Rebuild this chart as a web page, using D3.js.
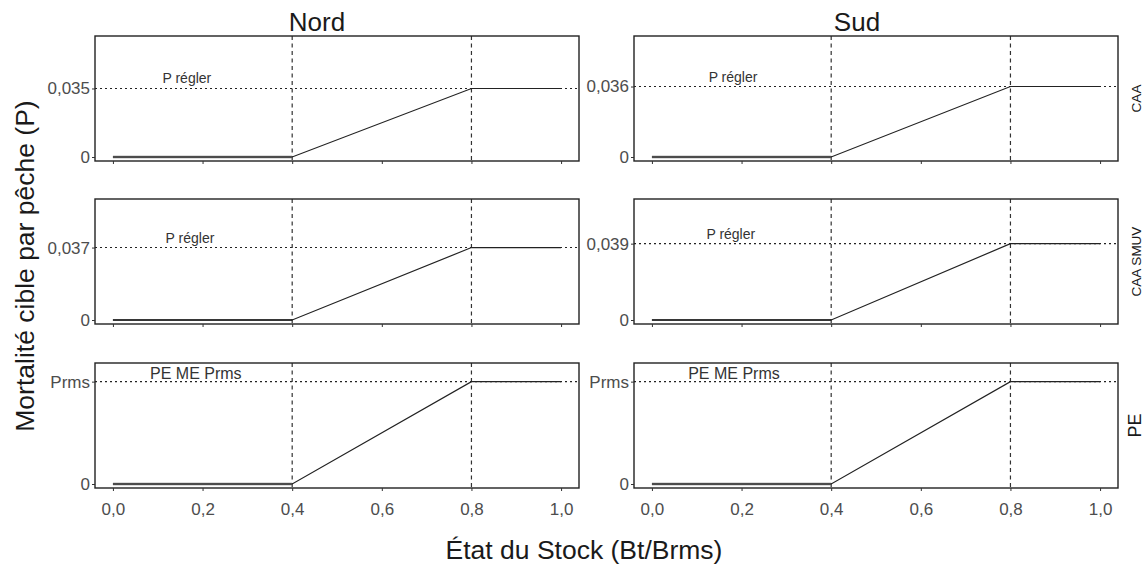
<!DOCTYPE html>
<html>
<head>
<meta charset="utf-8">
<script src="https://cdnjs.cloudflare.com/ajax/libs/d3/7.8.5/d3.min.js"></script>
<style>
  body { margin: 0; background: #fff; }
  svg text { font-family: "Liberation Sans", Arial, sans-serif; }
</style>
</head>
<body>
<div id="chart"></div>
<script>
// DATA //
const regions = ["Nord", "Sud"]
const rules = ["CAA", "CAA SMUV", "PE"]

// stock status breakpoints (Bt/Brms)
const stockX = [0, 0.4, 0.8, 1.0]
const refLinesX = [0.4, 0.8]

// target mortality per rule (rows) and region (cols); PE is expressed in Prms units
const targetP = [
    [0.035, 0.036],
    [0.037, 0.039],
    [1, 1],
]
const targetLabels = [
    ["0,035", "0,036"],
    ["0,037", "0,039"],
    ["Prms", "Prms"],
]
const annotations = ["P régler", "P régler", "PE ME Prms"]
const annotationX = [
    [0.165, 0.181],
    [0.172, 0.176],
    [0.185, 0.183],
]

const xTicks = [0, 0.2, 0.4, 0.6, 0.8, 1.0]
const yDomains = [
    [-0.00204, 0.0618],
    [-0.00204, 0.0618],
    [-0.039, 1.182],
]

// GLOBAL VARIABLES //
const width = 1144
const height = 565

let dimensions = {
    panelLeft: [95, 634],
    panelWidth: 484,
    panelTop: [36, 199, 363],
    panelHeight: 125,
}

const fmt = d => d.toFixed(1).replace(".", ",")

const svg = d3.select("#chart")
    .append("svg")
    .attr("width", width)
    .attr("height", height)

// Column titles
const titleX = [317, 857]
regions.forEach((r, i) => {
    svg.append("text")
        .attr("x", titleX[i])
        .attr("y", 31)
        .attr("text-anchor", "middle")
        .attr("font-size", 26)
        .attr("fill", "#1a1a1a")
        .text(r)
})

rules.forEach((rule, row) => {
    regions.forEach((region, col) => {
        const x0 = dimensions.panelLeft[col]
        const y0 = dimensions.panelTop[row]

        const xScale = d3.scaleLinear()
            .domain([-0.04, 1.04])
            .range([0, dimensions.panelWidth])

        const yScale = d3.scaleLinear()
            .domain(yDomains[row])
            .range([dimensions.panelHeight, 0])

        const g = svg.append("g")
            .attr("transform", `translate(${x0},${y0})`)

        const target = targetP[row][col]

        // horizontal dotted line at target
        g.append("line")
            .attr("x1", 0)
            .attr("x2", dimensions.panelWidth)
            .attr("y1", yScale(target))
            .attr("y2", yScale(target))
            .attr("stroke", "#222")
            .attr("stroke-width", 1.1)
            .attr("stroke-dasharray", "2,3")

        // vertical dashed lines
        g.selectAll(".vline")
            .data(refLinesX)
            .join("line")
            .attr("class", "vline")
            .attr("x1", d => xScale(d))
            .attr("x2", d => xScale(d))
            .attr("y1", 0)
            .attr("y2", dimensions.panelHeight)
            .attr("stroke", "#333")
            .attr("stroke-width", 1.2)
            .attr("stroke-dasharray", "4,3.5")

        // control rule
        const pts = [0, 0, target, target]
        const lineGen = d3.line()
            .x((d, i) => xScale(stockX[i]))
            .y(d => yScale(d))

        // low segment drawn thicker/grey like the original
        g.append("path")
            .datum(pts.slice(0, 2))
            .attr("d", lineGen)
            .attr("fill", "none")
            .attr("stroke", row === 1 ? "#111" : "#777")
            .attr("stroke-width", row === 1 ? 1.6 : 2.6)

        g.append("path")
            .datum(pts)
            .attr("d", lineGen)
            .attr("fill", "none")
            .attr("stroke", "#222")
            .attr("stroke-width", 1.2)

        // annotation
        g.append("text")
            .attr("x", xScale(annotationX[row][col]))
            .attr("y", yScale(target) - (row === 2 ? 2.5 : 5))
            .attr("text-anchor", "middle")
            .attr("font-size", row === 2 ? 16 : 14)
            .attr("fill", "#333")
            .text(annotations[row])

        // panel border
        g.append("rect")
            .attr("width", dimensions.panelWidth)
            .attr("height", dimensions.panelHeight)
            .attr("fill", "none")
            .attr("stroke", "#222")
            .attr("stroke-width", 1.4)

        // y axis
        const yAxis = d3.axisLeft(yScale)
            .tickValues([0, target])
            .tickFormat((d, i) => i === 0 ? "0" : targetLabels[row][col])
            .tickSize(3)
            .tickPadding(2)
        const ya = g.append("g").call(yAxis)
        ya.select(".domain").remove()
        ya.selectAll("text")
            .attr("font-size", 17)
            .attr("fill", "#4d4d4d")
        ya.selectAll("line").attr("stroke", "#333")

        // x axis (labels only on bottom row)
        const xAxis = d3.axisBottom(xScale)
            .tickValues(xTicks)
            .tickFormat(row === 2 ? fmt : "")
            .tickSize(3)
            .tickPadding(12)
        const xa = g.append("g")
            .attr("transform", `translate(0,${dimensions.panelHeight})`)
            .call(xAxis)
        xa.select(".domain").remove()
        xa.selectAll("text")
            .attr("font-size", 17)
            .attr("fill", "#4d4d4d")
        xa.selectAll("line").attr("stroke", "#333")
    })

    // strip label on right
    const yc = dimensions.panelTop[row] + dimensions.panelHeight / 2
    svg.append("text")
        .attr("transform", `translate(1141,${yc}) rotate(-90)`)
        .attr("text-anchor", "middle")
        .attr("font-size", row === 2 ? 18 : 13.5)
        .attr("fill", "#1a1a1a")
        .text(rule)
})

// axis titles
svg.append("text")
    .attr("transform", "translate(34,266) rotate(-90)")
    .attr("text-anchor", "middle")
    .attr("font-size", 26.5)
    .attr("fill", "#1a1a1a")
    .text("Mortalité cible par pêche (P)")

svg.append("text")
    .attr("x", 584)
    .attr("y", 559)
    .attr("text-anchor", "middle")
    .attr("font-size", 26.5)
    .attr("fill", "#1a1a1a")
    .text("État du Stock (Bt/Brms)")
</script>
</body>
</html>
